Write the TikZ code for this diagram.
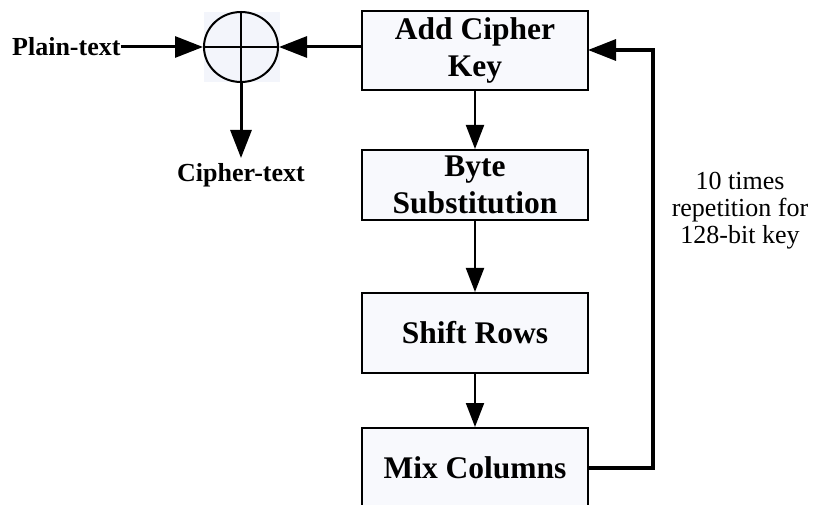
\documentclass[tikz,border=0pt]{standalone}
\usepackage{fontspec}
\setmainfont{Liberation Serif}
\usetikzlibrary{arrows.meta,shapes.geometric}
\definecolor{boxfill}{HTML}{F8F9FD}
\definecolor{xorbg}{HTML}{F3F5FB}
\tikzset{
  stage/.style={draw=black, line width=2pt, fill=boxfill, minimum width=226pt, inner sep=0pt,
    align=center, font=\bfseries\fontsize{31.5}{37}\selectfont},
  flow/.style={line width=2pt, -{Triangle[length=24pt,width=18pt]}},
  thickflow/.style={line width=3pt, -{Triangle[length=28pt,width=21pt]}},
  lbl/.style={font=\bfseries\fontsize{26}{30}\selectfont, inner sep=0pt},
  note/.style={align=center, font=\fontsize{26}{27}\selectfont, inner sep=0pt}
}
\begin{document}
\begin{tikzpicture}[x=1pt,y=-1pt]
\useasboundingbox (0,0) rectangle (833,505);
\clip (0,0) rectangle (833,505);
% XOR
\fill[xorbg] (204,12) rectangle (280,82);
\node[draw=black, line width=2pt, ellipse, minimum width=74pt, minimum height=70pt, inner sep=0pt] (xor) at (241,47) {};
\draw[line width=1.6pt] (xor.west) -- (xor.east);
\draw[line width=1.6pt] (xor.north) -- (xor.south);
% stages
\node[stage, minimum height=79pt] (add) at (475,50.5) {Add Cipher\\Key};
\node[stage, minimum height=70pt] (byte) at (475,185) {Byte\\Substitution};
\node[stage, minimum height=80pt] (shift) at (475,333) {Shift Rows};
\node[stage, minimum height=80pt] (mix) at (475,468) {Mix Columns};
% labels
\node[lbl, anchor=west] (plain) at (12,47) {Plain-text};
\node[lbl, anchor=north] (cipher) at (241,163) {Cipher-text};
\coordinate (cipherin) at (241,158);
\node[note] (rep) at (740,211) {10 times\\repetition for\\128-bit key};
% connectors
\draw[thickflow] (plain.east) -- (xor.west);
\draw[thickflow] (add.west |- xor.east) -- (xor.east);
\draw[thickflow] (xor.south) -- (cipherin);
\draw[flow] (add) -- (byte);
\draw[flow] (byte) -- (shift);
\draw[flow] (shift) -- (mix);
\coordinate (fbin) at (588,50);
\draw[line width=3.2pt, -{Triangle[length=28pt,width=21pt]}] (mix.east) -| (653,50) -- (fbin);
\end{tikzpicture}
\end{document}
